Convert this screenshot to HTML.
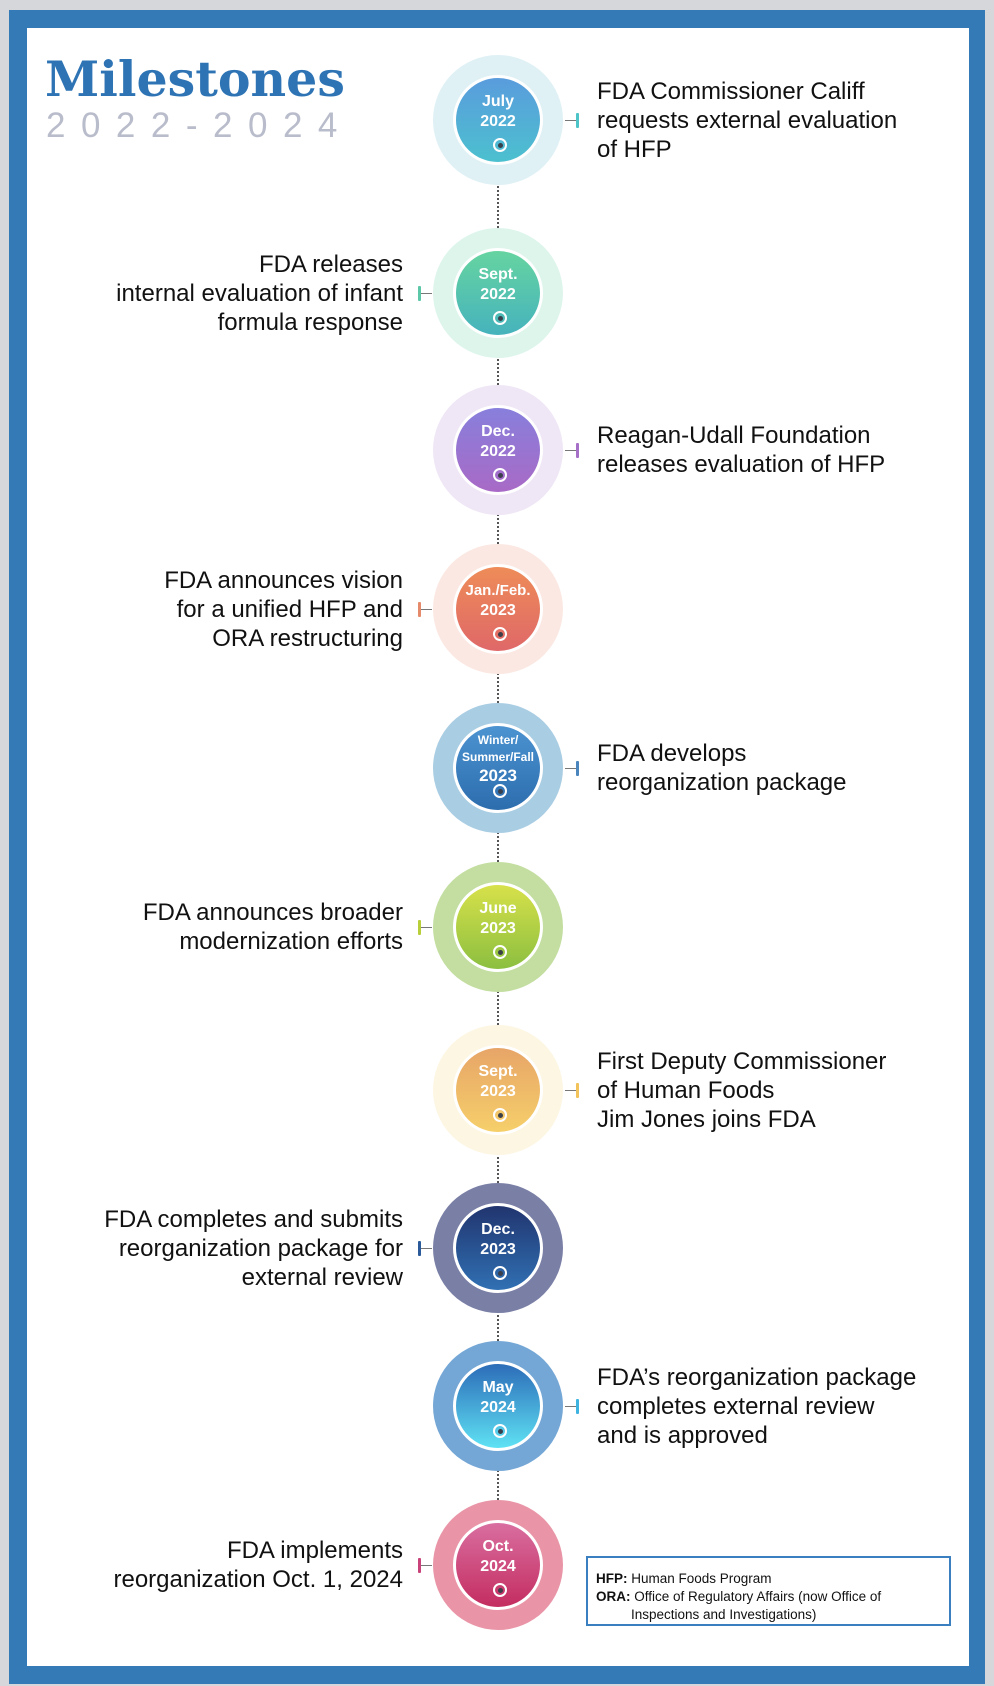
<!DOCTYPE html>
<html><head><meta charset="utf-8"><style>
*{margin:0;padding:0;box-sizing:border-box}
body{width:994px;height:1686px;background:#d6d7db;position:relative;overflow:hidden;font-family:"Liberation Sans",Arial,sans-serif}
.frame{position:absolute;left:9px;top:10px;width:976px;height:1674px;background:#337ab7}
.white{position:absolute;left:27px;top:28px;width:942px;height:1638px;background:#fff}
.o{position:absolute;left:433px;width:130px;height:130px;border-radius:50%}
.i{position:absolute;left:453px;width:90px;height:90px;border-radius:50%;border:3px solid #fff;color:#fff;font-weight:bold;text-align:center}
.i span{position:absolute;left:-10px;right:-10px;font-size:16px;line-height:20px}
.dot{position:absolute;left:37px;top:63px;width:14px;height:14px;border-radius:50%;border:2px solid #fff}
.dot::after{content:"";position:absolute;left:2.5px;top:2.5px;width:5px;height:5px;border-radius:50%;background:#3a3f4a}
.ln{position:absolute;left:497px;width:0;border-left:2px dotted #555}
.t{position:absolute;font-size:24px;line-height:29px;color:#111;white-space:nowrap}
.tr{left:597px}
.tl{right:591px;text-align:right}
.hl{position:absolute;height:1px;background:#777;width:11px}
.bar{position:absolute;width:3px;height:15px;border-radius:1px}
</style></head><body>
<div class="frame"></div><div class="white"></div>
<div style="position:absolute;left:45px;top:50px;font-family:'DejaVu Serif',serif;font-weight:bold;font-size:49px;color:#2e74b5;line-height:58px;white-space:nowrap">Milestones</div>
<div style="position:absolute;left:46px;top:106px;font-size:35px;letter-spacing:15.5px;color:#b9bccb;line-height:40px">2022-2024</div>

<div class="ln" style="top:155px;height:73px"></div>
<div class="ln" style="top:328px;height:57px"></div>
<div class="ln" style="top:485px;height:59px"></div>
<div class="ln" style="top:644px;height:59px"></div>
<div class="ln" style="top:800px;height:62px"></div>
<div class="ln" style="top:962px;height:63px"></div>
<div class="ln" style="top:1125px;height:58px"></div>
<div class="ln" style="top:1283px;height:58px"></div>
<div class="ln" style="top:1441px;height:59px"></div>

<div class="o" style="top:55px;background:#dff1f5"></div>
<div class="i" style="top:75px;background:linear-gradient(#5a9cdd,#4cc0cf)"><span style="top:14px">July</span><span style="top:34px">2022</span><div class="dot" style="top:60px"></div></div>
<div class="hl" style="left:565px;top:120px"></div><div class="bar" style="left:576px;top:113px;background:#4cc4c8"></div>
<div class="t tr" style="top:77px">FDA Commissioner Califf<br>requests external evaluation<br>of HFP</div>

<div class="o" style="top:228px;background:#def5ec"></div>
<div class="i" style="top:248px;background:linear-gradient(#66d4a0,#46b3bd)"><span style="top:14px">Sept.</span><span style="top:34px">2022</span><div class="dot" style="top:60px"></div></div>
<div class="hl" style="left:421px;top:293px"></div><div class="bar" style="left:418px;top:286px;background:#5cc8a8"></div>
<div class="t tl" style="top:250px">FDA releases<br>internal evaluation of infant<br>formula response</div>

<div class="o" style="top:385px;background:#efe6f6"></div>
<div class="i" style="top:405px;background:linear-gradient(#887fdc,#a86ac6)"><span style="top:14px">Dec.</span><span style="top:34px">2022</span><div class="dot" style="top:60px"></div></div>
<div class="hl" style="left:565px;top:450px"></div><div class="bar" style="left:576px;top:443px;background:#a670c8"></div>
<div class="t tr" style="top:421px">Reagan-Udall Foundation<br>releases evaluation of HFP</div>

<div class="o" style="top:544px;background:#fbe8e2"></div>
<div class="i" style="top:564px;background:linear-gradient(#ee8c58,#df6868)"><span style="top:14px;font-size:15px">Jan./Feb.</span><span style="top:34px">2023</span><div class="dot" style="top:60px"></div></div>
<div class="hl" style="left:421px;top:609px"></div><div class="bar" style="left:418px;top:602px;background:#e58a6a"></div>
<div class="t tl" style="top:566px">FDA announces vision<br>for a unified HFP and<br>ORA restructuring</div>

<div class="o" style="top:703px;background:#a9cde3"></div>
<div class="i" style="top:723px;background:linear-gradient(#4c93d1,#2c6dae)"><span style="top:7px;font-size:12px;line-height:14px">Winter/</span><span style="top:24px;font-size:12px;line-height:14px">Summer/Fall</span><span style="top:40px;font-size:17px">2023</span><div class="dot" style="top:58px"></div></div>
<div class="hl" style="left:565px;top:768px"></div><div class="bar" style="left:576px;top:761px;background:#4a86bd"></div>
<div class="t tr" style="top:739px">FDA develops<br>reorganization package</div>

<div class="o" style="top:862px;background:#c3dea0"></div>
<div class="i" style="top:882px;background:linear-gradient(#d7e14a,#8cbf40)"><span style="top:14px">June</span><span style="top:34px">2023</span><div class="dot" style="top:60px"></div></div>
<div class="hl" style="left:421px;top:927px"></div><div class="bar" style="left:418px;top:920px;background:#b9cf3a"></div>
<div class="t tl" style="top:898px">FDA announces broader<br>modernization efforts</div>

<div class="o" style="top:1025px;background:#fdf6e3"></div>
<div class="i" style="top:1045px;background:linear-gradient(#e7a568,#f6cf6a)"><span style="top:14px">Sept.</span><span style="top:34px">2023</span><div class="dot" style="top:60px"></div></div>
<div class="hl" style="left:565px;top:1090px"></div><div class="bar" style="left:576px;top:1083px;background:#f2c35a"></div>
<div class="t tr" style="top:1047px">First Deputy Commissioner<br>of Human Foods<br>Jim Jones joins FDA</div>

<div class="o" style="top:1183px;background:#7a7fa6"></div>
<div class="i" style="top:1203px;background:linear-gradient(#21356f,#3070b3)"><span style="top:14px">Dec.</span><span style="top:34px">2023</span><div class="dot" style="top:60px"></div></div>
<div class="hl" style="left:421px;top:1248px"></div><div class="bar" style="left:418px;top:1241px;background:#2a5a9a"></div>
<div class="t tl" style="top:1205px">FDA completes and submits<br>reorganization package for<br>external review</div>

<div class="o" style="top:1341px;background:#74a7d6"></div>
<div class="i" style="top:1361px;background:linear-gradient(#2c6cb8,#5fe2f4)"><span style="top:14px">May</span><span style="top:34px">2024</span><div class="dot" style="top:60px"></div></div>
<div class="hl" style="left:565px;top:1406px"></div><div class="bar" style="left:576px;top:1399px;background:#3fb4e0"></div>
<div class="t tr" style="top:1363px">FDA’s reorganization package<br>completes external review<br>and is approved</div>

<div class="o" style="top:1500px;background:#e995a7"></div>
<div class="i" style="top:1520px;background:linear-gradient(#d96ea0,#c42d60)"><span style="top:14px">Oct.</span><span style="top:34px">2024</span><div class="dot" style="top:60px"></div></div>
<div class="hl" style="left:421px;top:1565px"></div><div class="bar" style="left:418px;top:1558px;background:#c9437a"></div>
<div class="t tl" style="top:1536px">FDA implements<br>reorganization Oct. 1, 2024</div>

<div style="position:absolute;left:586px;top:1556px;width:365px;height:70px;border:2px solid #3a7fbf;font-size:13.5px;line-height:18px;color:#111;padding:12px 0 0 8px;white-space:nowrap">
<div><b>HFP:</b> Human Foods Program</div>
<div><b>ORA:</b> Office of Regulatory Affairs (now Office of</div>
<div style="padding-left:35px">Inspections and Investigations)</div>
</div>
</body></html>
